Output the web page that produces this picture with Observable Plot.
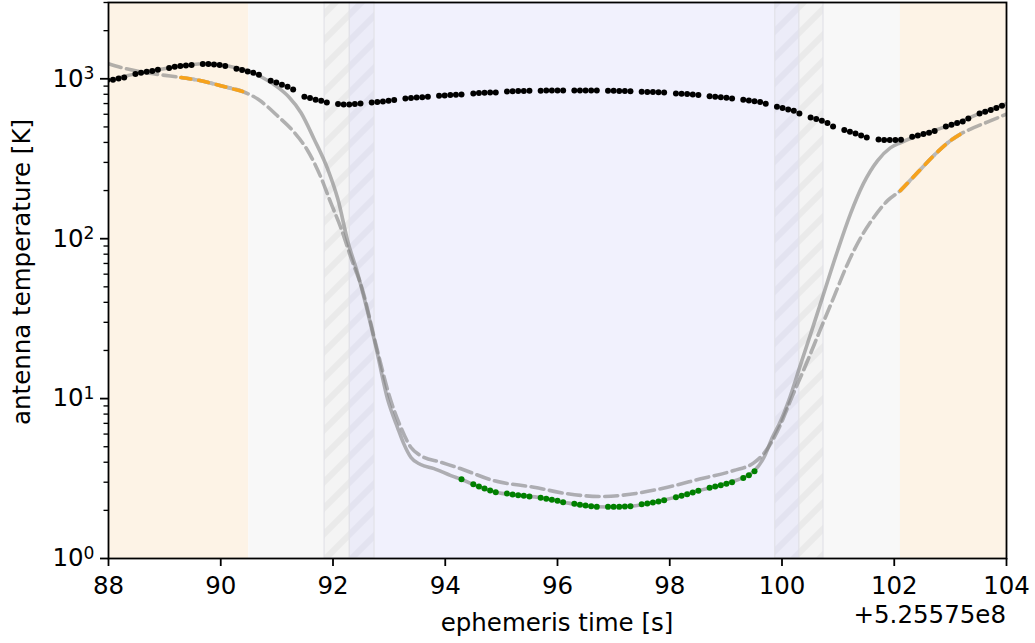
<!DOCTYPE html>
<html><head><meta charset="utf-8">
<script src="https://cdn.jsdelivr.net/npm/d3@7"></script>
<script src="https://cdn.jsdelivr.net/npm/@observablehq/plot@0.6"></script>
<style>html,body{margin:0;padding:0;background:#fff}svg{display:block}</style>
</head><body><div id="chart"></div>
<script>
// ---- background bands (ephemeris time, s, offset +5.25575e8) ----
const bandStart = [88, 90.5, 91.85, 92.30, 92.74, 99.88, 100.31, 100.74, 102.11];
const bandEnd   = [90.5, 91.85, 92.30, 92.74, 99.88, 100.31, 100.74, 102.11, 104];
const bandKind  = ["sun", "space", "spaceEdge", "limb", "occultation", "limb", "spaceEdge", "space", "sun"];

// ---- measured antenna temperature (black dots) ----
const blackTime = [
  87.98, 88.08, 88.18, 88.28,
  88.48, 88.58, 88.68, 88.78, 88.88,
  89.08, 89.18, 89.28, 89.38, 89.48,
  89.68, 89.78, 89.88, 89.98, 90.08,
  90.28, 90.38, 90.48, 90.58, 90.68,
  90.89, 90.99, 91.09, 91.19, 91.29,
  91.49, 91.59, 91.69, 91.79, 91.89,
  92.09, 92.19, 92.29, 92.39, 92.49,
  92.69, 92.79, 92.89, 92.99, 93.09,
  93.29, 93.39, 93.49, 93.59, 93.69,
  93.89, 93.99, 94.09, 94.19, 94.29,
  94.50, 94.60, 94.70, 94.80, 94.90,
  95.10, 95.20, 95.30, 95.40, 95.50,
  95.70, 95.80, 95.90, 96.00, 96.10,
  96.30, 96.40, 96.50, 96.60, 96.70,
  96.90, 97.00, 97.10, 97.20, 97.30,
  97.50, 97.60, 97.70, 97.80, 97.90,
  98.11, 98.21, 98.31, 98.41, 98.51,
  98.71, 98.81, 98.91, 99.01, 99.11,
  99.31, 99.41, 99.51, 99.61, 99.71,
  99.91, 100.01, 100.11, 100.21, 100.31,
  100.51, 100.61, 100.71, 100.81, 100.91,
  101.11, 101.21, 101.31, 101.41, 101.51,
  101.72, 101.82, 101.92, 102.02, 102.12,
  102.32, 102.42, 102.52, 102.62, 102.72,
  102.92, 103.02, 103.12, 103.22, 103.32,
  103.52, 103.62, 103.72, 103.82, 103.92
];
const blackTemp = [
  979, 986, 1004, 1019,
  1070, 1090, 1106, 1117, 1138,
  1167, 1189, 1201, 1212, 1218,
  1236, 1236, 1230, 1218, 1201,
  1155, 1133, 1111, 1090, 1059,
  972, 948, 917, 891, 857,
  772, 758, 739, 729, 711,
  695, 691, 691, 695, 701,
  711, 715, 721, 729, 736,
  753, 758, 763, 766, 772,
  783, 786, 791, 794, 798,
  809, 814, 817, 820, 821,
  833, 835, 838, 839, 841,
  843, 845, 846, 846, 846,
  846, 846, 845, 845, 844,
  841, 841, 838, 838, 835,
  829, 827, 826, 823, 821,
  809, 806, 802, 798, 791,
  777, 772, 766, 761, 753,
  739, 731, 725, 715, 698,
  668, 656, 643, 631, 607,
  573, 560, 547, 529, 503,
  478, 467, 455, 442, 430,
  417, 414, 414, 414, 416,
  434, 442, 451, 460, 471,
  503, 516, 529, 541, 565,
  607, 622, 638, 656, 678
];

// ---- occultation samples (green dots) ----
const greenTime = [
  94.29,
  94.50, 94.60, 94.70, 94.80, 94.90,
  95.10, 95.20, 95.30, 95.40, 95.50,
  95.70, 95.80, 95.90, 96.00, 96.10,
  96.30, 96.40, 96.50, 96.60, 96.70,
  96.90, 97.00, 97.10, 97.20, 97.30,
  97.50, 97.60, 97.70, 97.80, 97.90,
  98.11, 98.21, 98.31, 98.41, 98.51,
  98.71, 98.81, 98.91, 99.01, 99.11,
  99.31, 99.41, 99.51
];
const greenTemp = [
  3.13,
  2.914, 2.818, 2.738, 2.661, 2.597,
  2.548, 2.512, 2.487, 2.465, 2.44,
  2.395, 2.361, 2.327, 2.294, 2.248,
  2.197, 2.165, 2.144, 2.122, 2.104,
  2.104, 2.104, 2.104, 2.113, 2.122,
  2.185, 2.207, 2.239, 2.272, 2.314,
  2.415, 2.465, 2.523, 2.586, 2.649,
  2.766, 2.818, 2.871, 2.93, 2.998,
  3.193, 3.316, 3.512
];

// ---- model 1 (solid grey) ----
const solidTime = [88.00, 88.49, 88.93, 89.38, 89.73, 90.00, 90.27, 90.54, 90.75, 90.98,
  91.21, 91.43, 91.66, 91.91, 92.09, 92.26, 92.44, 92.58, 92.76, 92.98,
  93.15, 93.26, 93.39, 93.56, 93.80, 94.10, 94.29, 94.59, 94.90, 95.30,
  95.70, 96.11, 96.48, 96.91, 97.29, 97.69, 98.11, 98.50, 98.89, 99.29,
  99.50, 99.68, 99.83, 99.98, 100.12, 100.33, 100.53, 100.72, 100.99, 101.22,
  101.45, 101.70, 101.93, 102.11, 102.42, 102.65, 102.91, 103.18, 103.50, 104.00];
const solidTemp = [979, 1075, 1147, 1214, 1241, 1223, 1172, 1106, 1015, 904,
  772, 613, 422, 270, 175, 97.2, 60.4, 39.3, 21.4, 9.72,
  6.59, 5.23, 4.28, 3.87, 3.65, 3.30, 3.12, 2.82, 2.60, 2.49,
  2.40, 2.25, 2.14, 2.10, 2.12, 2.24, 2.42, 2.65, 2.87, 3.19,
  3.51, 4.30, 5.73, 7.29, 9.72, 16.3, 26.6, 42.8, 84.1, 143,
  221, 307, 370, 398, 440, 467, 501, 539, 604, 698];

// ---- model 2 (dashed grey) ----
const dashTime = [88.00, 88.22, 88.58, 88.93, 89.29, 89.65, 90.00, 90.39, 90.66, 91.01,
  91.31, 91.55, 91.78, 91.96, 92.14, 92.32, 92.53, 92.76, 93.03, 93.21,
  93.39, 93.56, 93.92, 94.28, 94.86, 95.58, 96.18, 96.77, 97.36, 97.96,
  98.55, 99.14, 99.49, 99.67, 99.83, 99.98, 100.15, 100.42, 100.69, 100.92,
  101.17, 101.40, 101.63, 101.88, 102.11, 102.42, 102.70, 103.00, 103.18, 103.36,
  103.72, 104.00];
const dashTemp = [1241, 1177, 1106, 1059, 1019, 972, 904, 833, 747, 587,
  462, 355, 244, 168, 117, 76.1, 47.3, 22.1, 9.72, 6.59,
  4.94, 4.40, 4.00, 3.64, 3.07, 2.79, 2.54, 2.44, 2.54, 2.79,
  3.15, 3.55, 3.95, 4.51, 5.46, 6.95, 9.72, 16.1, 27.4, 42.8,
  69.8, 101, 135, 173, 200, 260, 330, 410, 451, 485,
  547, 602];

// ---- highlighted (orange) stretches of model 2 ----
const orangeStart = [89.29, 102.11];
const orangeEnd   = [90.39, 103.18];

// ---- axis ticks ----
const xTicks = [88, 90, 92, 94, 96, 98, 100, 102, 104];
const yTicks = [1, 10, 100, 1000];
const yMinor = [2,3,4,5,6,7,8,9,20,30,40,50,60,70,80,90,200,300,400,500,600,700,800,900,2000,3000];
const offsetLabel = "+5.25575e8";
const xLabel = "ephemeris time [s]";
const yLabel = "antenna temperature [K]";

// ---- assemble ----
const bands = bandStart.map((s, i) => ({start: s, end: bandEnd[i], kind: bandKind[i]}));
const baseFill = {sun: "#fdf3e6", space: "#f8f8f8", spaceEdge: "#f4f4f4", limb: "#ececf8", occultation: "#f1f1fd"};
const hatchFill = {spaceEdge: "url(#hatchGrey)", limb: "url(#hatchBlue)"};
const hatched = bands.filter(d => hatchFill[d.kind]);
const black = blackTime.map((t, i) => ({t, v: blackTemp[i]}));
const green = greenTime.map((t, i) => ({t, v: greenTemp[i]}));
const solid = solidTime.map((t, i) => ({t, v: solidTemp[i]}));
const dashed = dashTime.map((t, i) => ({t, v: dashTemp[i]}));
const orange = [];
orangeStart.forEach((s, k) => dashed.forEach(d => { if (d.t >= s - 1e-9 && d.t <= orangeEnd[k] + 1e-9) orange.push({...d, seg: k}); }));

const FS = 24.5;
const LW = 3.6;
const svg = Plot.plot({
  width: 1035, height: 643,
  marginLeft: 108, marginRight: 29, marginTop: 2, marginBottom: 85,
  style: {fontFamily: "'DejaVu Sans', sans-serif", fontSize: FS + "px", background: "white", color: "black"},
  x: {domain: [88, 104]},
  y: {type: "log", domain: [1, 3000]},
  color: {type: "identity"},
  marks: [
    Plot.rect(bands, {x1: "start", x2: "end", fill: d => baseFill[d.kind]}),
    Plot.rect(hatched, {x1: "start", x2: "end", fill: d => hatchFill[d.kind], stroke: "#e2e2e8", strokeWidth: 1.2}),
    Plot.line(dashed, {x: "t", y: "v", stroke: "#808080", strokeOpacity: 0.6, strokeWidth: LW, strokeDasharray: "13,5.6", curve: "monotone-x", clip: true}),
    Plot.line(solid, {x: "t", y: "v", stroke: "#808080", strokeOpacity: 0.6, strokeWidth: LW, curve: "monotone-x", clip: true}),
    Plot.line(orange, {x: "t", y: "v", z: "seg", stroke: "#b9b9b9", strokeWidth: LW, curve: "monotone-x"}),
    Plot.line(orange, {x: "t", y: "v", z: "seg", stroke: "#f7a21b", strokeWidth: LW, strokeDasharray: "10,8", curve: "monotone-x"}),
    Plot.dot(black, {x: "t", y: "v", r: 3, fill: "black", clip: true}),
    Plot.dot(green, {x: "t", y: "v", r: 3, fill: "#008000"}),
    Plot.frame({stroke: "black", strokeWidth: 1.8}),
    Plot.axisX(xTicks, {tickSize: 8, tickPadding: 10, strokeWidth: 1.8, fontSize: FS, tickFormat: d => String(d), label: null}),
    Plot.axisY(yTicks, {tickSize: 8, tickPadding: 6, strokeWidth: 1.8, fontSize: FS, tickFormat: d => "10^" + Math.round(Math.log10(d)), label: null}),
    Plot.axisY(yMinor, {tickSize: 4.5, strokeWidth: 1.35, text: null, label: null})
  ]
});

// superscript exponents on y tick labels
d3.select(svg).selectAll("text").each(function() {
  const el = d3.select(this);
  const s = el.text();
  const m = /^10\^(\d+)$/.exec(s);
  if (m) {
    el.text("10");
    el.append("tspan").attr("dy", "-0.42em").attr("font-size", "0.7em").text(m[1]);
  }
});

// hatch patterns
const defs = d3.select(svg).insert("defs", ":first-child");
function hatch(id, bg, color) {
  const s = 26;
  const p = defs.append("pattern").attr("id", id).attr("patternUnits", "userSpaceOnUse").attr("width", s).attr("height", s);
  p.append("rect").attr("width", s).attr("height", s).attr("fill", bg);
  p.append("path").attr("d", `M${-s/2},${s/2}L${s/2},${-s/2}M0,${s}L${s},0M${s/2},${1.5*s}L${1.5*s},${s/2}`)
    .attr("stroke", color).attr("stroke-width", 6).attr("fill", "none");
}
hatch("hatchGrey", "#f4f4f4", "#eaeaea");
hatch("hatchBlue", "#ececf8", "#e3e3f0");

// text labels
const g = d3.select(svg).append("g").attr("font-family", "'DejaVu Sans', sans-serif").attr("font-size", FS).attr("fill", "black");
g.append("text").attr("x", 557).attr("y", 631).attr("text-anchor", "middle").text(xLabel);
g.append("text").attr("x", 1006).attr("y", 623).attr("text-anchor", "end").text(offsetLabel);
g.append("text").attr("transform", "translate(30,272) rotate(-90)").attr("text-anchor", "middle").text(yLabel);

document.getElementById("chart").appendChild(svg);
</script>
</body></html>
